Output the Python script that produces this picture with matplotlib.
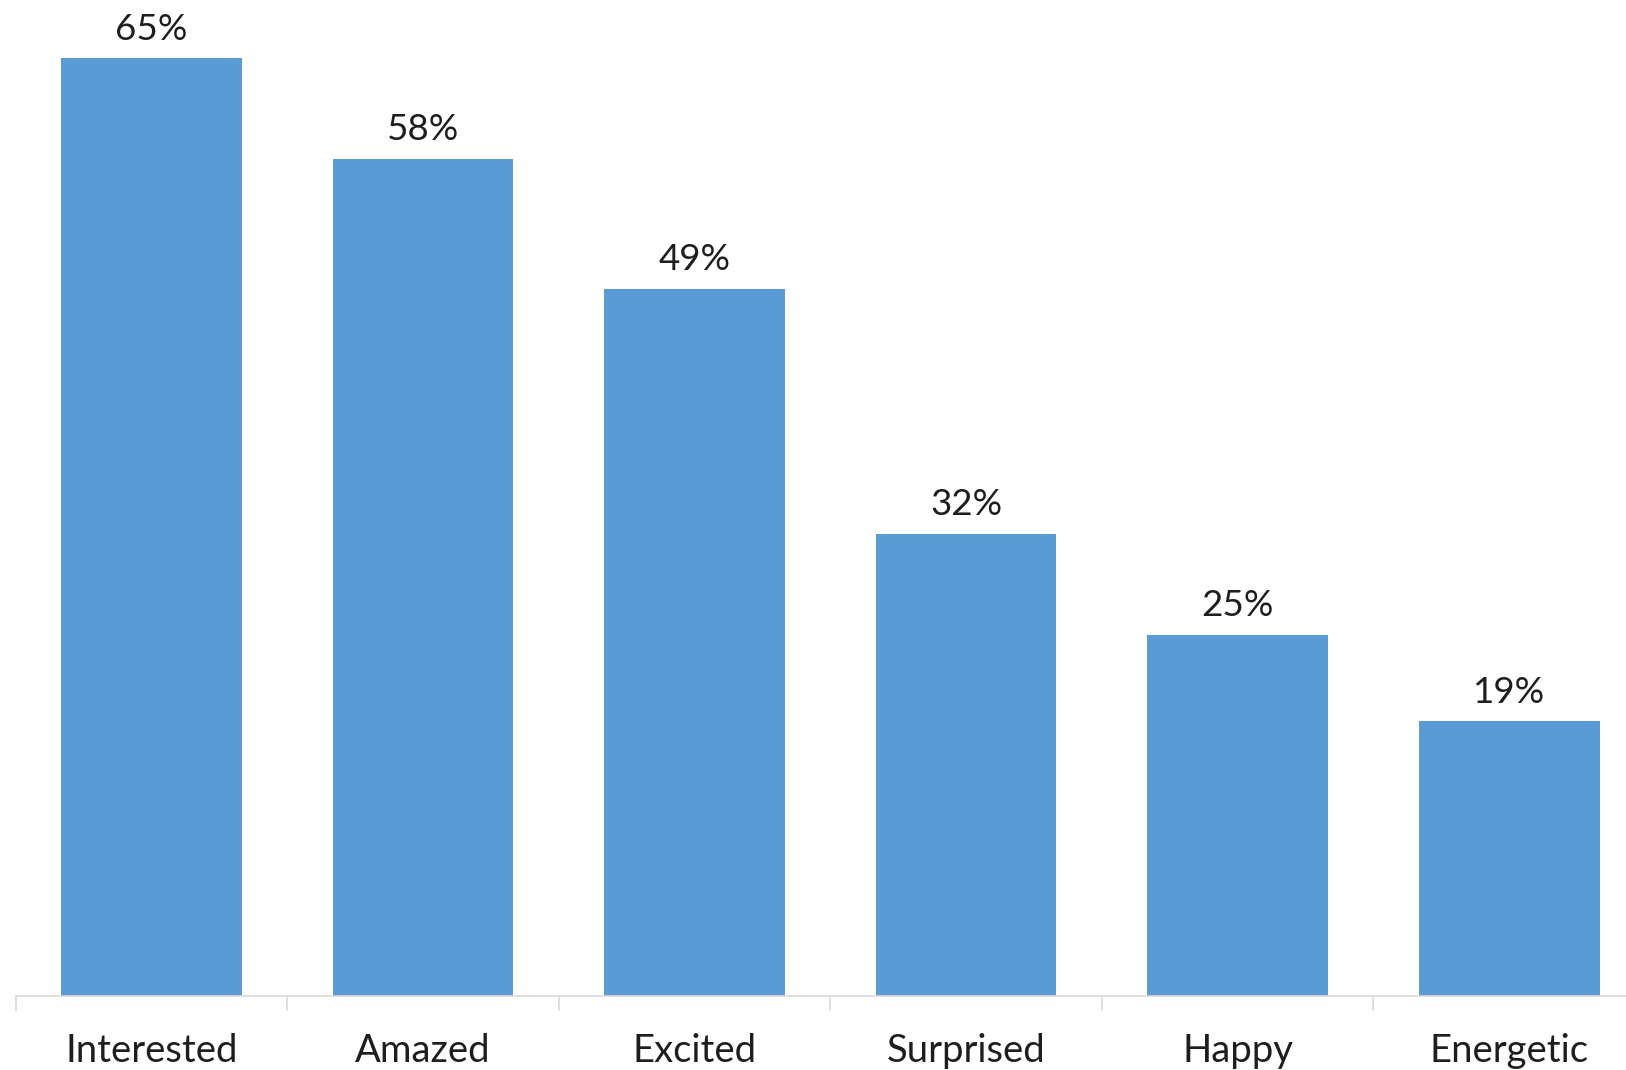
import numpy as np
import matplotlib
matplotlib.use("Agg")
import matplotlib.pyplot as plt

categories = ["Interested", "Amazed", "Excited", "Surprised", "Happy", "Energetic"]
values = [65, 58, 49, 32, 25, 19]

BAR_COLOR = "#5B9BD5"
AXIS_COLOR = "#D9D9D9"

plt.rcParams['font.family'] = ['Lato', 'DejaVu Sans']


def main():
    W, H = 1626, 1070
    fig = plt.figure(figsize=(W / 100, H / 100), dpi=100)

    # axes placed in pixels, right edge runs past the figure like the crop
    left, right = 15.5, 1645
    bottom, top = 995.5, 58
    ax = fig.add_axes([left / W, (H - bottom) / H, (right - left) / W, (bottom - top) / H])

    x = np.arange(len(categories))
    ax.bar(x, values, width=0.665, color=BAR_COLOR, zorder=2)

    for xi, v in zip(x, values):
        ax.annotate(f"{v}%", (xi, v), xytext=(0, 9), textcoords="offset points",
                    ha="center", va="bottom", fontsize=26.5, color="#1e1e1e",
                    annotation_clip=False)

    ax.set_xlim(-0.5, len(categories) - 0.5)
    ax.set_ylim(0, max(values))

    for s in ["left", "right", "top"]:
        ax.spines[s].set_visible(False)
    ax.spines["bottom"].set_color(AXIS_COLOR)
    ax.spines["bottom"].set_linewidth(1.2)

    ax.set_yticks([])
    ax.set_xticks(x)
    ax.set_xticklabels(categories, fontsize=27.5, color="#1e1e1e")
    ax.tick_params(axis="x", length=0, pad=27)
    # boundary ticks between categories
    ax.set_xticks(np.arange(len(categories) + 1) - 0.5, minor=True)
    ax.tick_params(axis="x", which="minor", length=11, color=AXIS_COLOR, width=1.2)

    fig.savefig("out.png", dpi=100)


if __name__ == "__main__":
    main()
